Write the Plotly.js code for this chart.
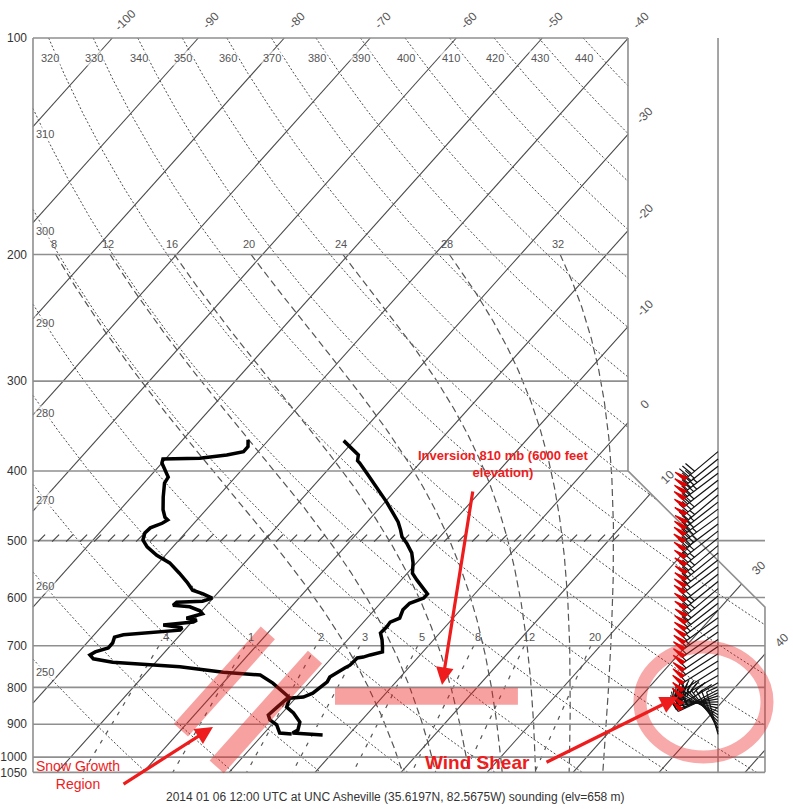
<!DOCTYPE html>
<html><head><meta charset="utf-8">
<script src="https://cdn.plot.ly/plotly-3.0.1.min.js"></script>
<style>html,body{margin:0;padding:0;background:#fff}#chart{width:793px;height:809px}</style>
</head><body><div id="chart"></div>
<script>
// ================= DATA =================
const pressureTicks = [100,200,300,400,500,600,700,800,900,1000,1050];
const pressureTickText = ['100','200','300','400','500','600','700','800','900','1000','1050'];

// Temperature profile (hPa, °C)
const tempP = [363,372,380,387,390,403,422,442,458,471,483,494,504,520,537,555,567,582,593,601,611,624,641,649,659,672,687,703,714,721,726,728,745,752,764,774,786,799,815,825,828,852,868,894,917,926,932];
const tempT = [-31.2,-29.5,-28.0,-27.5,-27.0,-25.1,-22.4,-19.8,-17.9,-16.4,-15.3,-14.4,-13.2,-11.6,-10.4,-9.4,-8.2,-6.6,-5.5,-5.5,-6.6,-6.7,-6.2,-6.9,-6.8,-6.9,-6.0,-5.2,-4.7,-5.8,-6.4,-7.0,-7.1,-7.4,-7.8,-8.2,-8.0,-8.3,-8.5,-9.2,-10.7,-10.1,-8.7,-7.0,-6.4,-6.7,-3.0];

// Dewpoint profile (hPa, °C)
const dewP = [362,370,376,380,384,385,390,399,408,416,435,453,464,468,473,480,488,499,510,524,537,555,571,586,593,601,607,609,615,618,626,632,641,645,649,655,661,666,670,672,676,681,694,705,714,721,730,738,749,762,769,789,807,825,852,874,888,902,926,929];
const dewT = [-42.4,-41.7,-41.7,-43.3,-46.1,-50.3,-50.0,-48.9,-47.8,-47.6,-46.3,-45.0,-44.0,-43.4,-43.7,-44.6,-44.7,-44.2,-43.0,-41.0,-38.7,-36.5,-34.7,-33.2,-31.6,-30.1,-30.9,-33.8,-33.9,-31.8,-30.2,-29.6,-31.0,-29.6,-29.8,-33.0,-30.5,-30.5,-32.6,-34.0,-36.6,-37.4,-37.0,-37.0,-38.1,-38.4,-37.6,-35.0,-26.7,-21.1,-16.5,-14.2,-12.6,-10.9,-11.2,-11.4,-10.7,-9.4,-8.2,-6.7];

// Winds (hPa, direction deg, speed kt)
const windP   = [376,385,394,403,412,422,432,442,452,463,474,485,496,508,520,532,544,557,570,583,597,611,625,640,655,670,686,702,718,735,752,770,788,806,814,822,830,838,846,855,864,873,882,892,902,912,922,930];
const windDir = [230,231,232,233,232,231,230,232,233,234,233,232,231,230,231,232,233,232,231,230,231,232,233,234,235,235,236,236,237,238,238,240,240,242,245,252,260,268,276,284,292,300,308,315,322,330,338,345];
const windSpd = [80,80,85,85,80,80,75,75,80,85,85,80,75,75,75,70,70,70,75,75,70,70,65,65,65,60,60,60,60,55,55,55,50,50,45,40,35,35,30,30,25,25,20,20,15,15,10,10];

// Background line families
const isothermT = [-100,-90,-80,-70,-60,-50,-40,-30,-20,-10,0,10,20,30,40,50];
const isoLabelTop = [-100,-90,-80,-70,-60,-50,-40];
const isoLabelRight = [-30,-20,-10,0];
const isoLabelDiag = [10,30];
const isoLabelLowRight = [40];
const dryTheta = [250,260,270,280,290,300,310,320,330,340,350,360,370,380,390,400,410,420,430,440];
const dryLabelTop = [320,330,340,350,360,370,380,390,400,410,420,430,440];
const dryLabelLeft = [250,260,270,280,290,300,310];
const moistThetaW = [8,12,16,20,24,28,32];
const mixRatio = [0.4,1,2,3,5,8,12,20];
const mixLabels = ['.4','1','2','3','5','8','12','20'];

// Highlight marks (annotation)
const snowBandT = [-20,-12];
const snowBandP0 = [672,726];
const snowBandP1 = [917,1032];
const inversionP = 823;

// ================= GEOMETRY =================
const W=793, H=809, M={l:28,r:3,t:30,b:29};
const XR=[-34.97,53.64], YR=[3.03185,1.98887];
const S=32.5;                  // skew (°C per ln p)
const XL=-34.39, XRT=34.8, XRB=50.73, BARBX=45.27;
const PTOP=100, PBOT=1050, PD0=400, PD1=618.6;
const plotW=W-M.l-M.r, plotH=H-M.t-M.b;
const pxX=plotW/(XR[1]-XR[0]);
const pxLn=plotH/((YR[0]-YR[1])*Math.LN10);

function skewX(T,p){return T+S*Math.log(1000/p);}
function xRight(p){
  if(p<PD0) return XRT;
  if(p>=PD1) return XRB;
  return XRT+(XRB-XRT)*Math.log(p/PD0)/Math.log(PD1/PD0);
}
function inside(X,p){return p>=PTOP-1e-7&&p<=PBOT+1e-7&&X>=XL-1e-7&&X<=xRight(p)+1e-7;}
function curve(Tfn,p0,p1,n){
  const xs=[],ys=[];let prev=null;
  for(let i=0;i<=n;i++){
    const p=Math.exp(Math.log(p0)+(Math.log(p1)-Math.log(p0))*i/n);
    const X=skewX(Tfn(p),p);const ins=inside(X,p);
    if(prev&&prev.ins!==ins){
      let a=prev.p,b=p;
      for(let k=0;k<40;k++){const m=Math.sqrt(a*b);const im=inside(skewX(Tfn(m),m),m);if(im===prev.ins)a=m;else b=m;}
      const pb=prev.ins?a:b;const Xb=skewX(Tfn(pb),pb);
      if(prev.ins){xs.push(Xb,null);ys.push(pb,null);}else{xs.push(Xb);ys.push(pb);}
    }
    if(ins){xs.push(X);ys.push(p);}
    prev={p,ins};
  }
  xs.push(null);ys.push(null);
  return {xs,ys};
}
function bisect(g,a,b){let ga=g(a);for(let k=0;k<60;k++){const m=0.5*(a+b);const gm=g(m);if((gm>0)===(ga>0)){a=m;ga=gm;}else b=m;}return 0.5*(a+b);}
function dryT(th){return p=>th*Math.pow(p/1000,0.2857)-273.15;}
function mixTd(w){return p=>{const e=(w/1000)*p/(0.622+w/1000);const L=Math.log(e/6.112);return 243.5*L/(17.67-L);};}
function moistT(thw){
  const f=(T,p)=>{const Rd=287.04,Cp=1005.7,Lv=2.501e6,eps=0.622;const tc=T-273.15;const es=6.112*Math.exp(17.67*tc/(tc+243.5));const rs=eps*es/(p-es);return (Rd*T+Lv*rs)/(p*(Cp+Lv*Lv*rs*eps/(Rd*T*T)));};
  const rk=(T,p,h)=>{const k1=f(T,p),k2=f(T+h/2*k1,p+h/2),k3=f(T+h/2*k2,p+h/2),k4=f(T+h*k3,p+h);return T+h/6*(k1+2*k2+2*k3+k4);};
  const up=[];let T=thw+273.15,p=1000;up.push(T);
  while(p>190){T=rk(T,p,-2);p-=2;up.push(T);}
  up.reverse();
  const arr=up.slice();T=thw+273.15;p=1000;
  while(p<1060){T=rk(T,p,2);p+=2;arr.push(T);}
  return pp=>{const i=(pp-190)/2;const i0=Math.max(0,Math.min(arr.length-2,Math.floor(i)));const fr=i-i0;return arr[i0]*(1-fr)+arr[i0+1]*fr-273.15;};
}
function join(list){const xs=[],ys=[];list.forEach(c=>{xs.push(...c.xs);ys.push(...c.ys);});return {xs,ys};}

const font='Liberation Sans, Arial, sans-serif';
const traces=[];
const ann=[];
const gridGray='#8f8f8f', lineDark='#4a4a4a';

// Isotherms
const iso=join(isothermT.map(T=>curve(()=>T,PTOP,PBOT,300)));
traces.push({x:iso.xs,y:iso.ys,mode:'lines',line:{color:lineDark,width:1.1},hoverinfo:'skip'});
// Dry adiabats
const dry=join(dryTheta.map(th=>curve(dryT(th),PTOP,PBOT,500)));
traces.push({x:dry.xs,y:dry.ys,mode:'lines',line:{color:lineDark,width:1,dash:'2px,2px'},hoverinfo:'skip'});
// Moist adiabats
const moistFns=moistThetaW.map(moistT);
const mo=join(moistFns.map(fn=>curve(fn,200,PBOT,500)));
traces.push({x:mo.xs,y:mo.ys,mode:'lines',line:{color:'#555',width:1.2,dash:'7px,4px'},hoverinfo:'skip'});
// Mixing ratio
const mx=join(mixRatio.map(w=>curve(mixTd(w),700,PBOT,200)));
traces.push({x:mx.xs,y:mx.ys,mode:'lines',line:{color:'#555',width:1.2,dash:'4px,7px'},hoverinfo:'skip'});

// Isobars and frame
const bx=[],by=[];
pressureTicks.forEach(p=>{bx.push(XL,p<500?XRT:XRB,null);by.push(p,p,null);});
bx.push(XL,XL,null);by.push(PTOP,PBOT,null);
bx.push(XRT,XRT,XRB,XRB,null);by.push(PTOP,PD0,PD1,PBOT,null);
bx.push(BARBX,BARBX,null);by.push(PTOP,PBOT,null);
traces.push({x:bx,y:by,mode:'lines',line:{color:gridGray,width:1.6},hoverinfo:'skip'});

// 500 hPa hatch marks
const hx=[],hy=[];
for(let X=XL+1.0;X<XRT-0.5;X+=14/pxX){hx.push(X);hy.push(496);}
traces.push({x:hx,y:hy,mode:'markers',marker:{symbol:'line-ne',size:7,line:{color:'#444',width:1.2}},hoverinfo:'skip'});

// Sounding
traces.push({x:dewT.map((t,i)=>skewX(t,dewP[i])),y:dewP,mode:'lines',line:{color:'#000',width:3.5},hoverinfo:'skip'});
traces.push({x:tempT.map((t,i)=>skewX(t,tempP[i])),y:tempP,mode:'lines',line:{color:'#000',width:3.5},hoverinfo:'skip'});

// Wind barbs
(function(){
  const lx=[],ly=[],fx=[],fy=[];
  const L=44,F=12,sp=4,pw=4;
  for(let i=0;i<windP.length;i++){
    const p=windP[i],d=windDir[i]*Math.PI/180,fd=(windDir[i]+80)*Math.PI/180;
    const ux=Math.sin(d),uy=-Math.cos(d),vx=Math.sin(fd),vy=-Math.cos(fd);
    const pt=(dx,dy)=>[BARBX+dx/pxX,p*Math.exp(dy/pxLn)];
    const A=pt(0,0),B=pt(L*ux,L*uy);
    lx.push(A[0],B[0],null);ly.push(A[1],B[1],null);
    let s=Math.round(windSpd[i]/5)*5,pos=L;
    while(s>=50){
      const a=pt(pos*ux,pos*uy),b=pt((pos-pw)*ux,(pos-pw)*uy),c=pt(pos*ux+F*vx,pos*uy+F*vy);
      fx.push(a[0],b[0],c[0],a[0],null);fy.push(a[1],b[1],c[1],a[1],null);
      pos-=pw+1.5;s-=50;
    }
    while(s>=10){
      const a=pt(pos*ux,pos*uy),c=pt(pos*ux+F*vx,pos*uy+F*vy);
      lx.push(a[0],c[0],null);ly.push(a[1],c[1],null);
      pos-=sp;s-=10;
    }
    if(s>=5){
      if(pos===L)pos-=sp;
      const a=pt(pos*ux,pos*uy),c=pt(pos*ux+F/2*vx,pos*uy+F/2*vy);
      lx.push(a[0],c[0],null);ly.push(a[1],c[1],null);
    }
  }
  traces.push({x:lx,y:ly,mode:'lines',line:{color:'#111',width:1.2},hoverinfo:'skip'});
  traces.push({x:fx,y:fy,mode:'lines',fill:'toself',fillcolor:'#e00000',line:{color:'#e00000',width:1.2},hoverinfo:'skip'});
})();

// Red highlight bands
const red='rgba(236,30,30,0.42)';
snowBandT.forEach((T,i)=>{
  const ps=[];for(let k=0;k<=20;k++)ps.push(Math.exp(Math.log(snowBandP0[i])+(Math.log(snowBandP1[i])-Math.log(snowBandP0[i]))*k/20));
  traces.push({x:ps.map(p=>skewX(T,p)),y:ps,mode:'lines',line:{color:red,width:19},hoverinfo:'skip'});
});
traces.push({x:[0.73,22.0],y:[inversionP,inversionP],mode:'lines',line:{color:red,width:17},hoverinfo:'skip'});

// ---------- labels ----------
const lblFont={family:font,size:11,color:'#555'};
const L10=Math.log10;
const A0={showarrow:false,xanchor:'center',yanchor:'middle'};
isoLabelTop.forEach(T=>ann.push({...A0,x:skewX(T,PTOP),y:L10(PTOP),text:String(T),textangle:-45,xshift:13,yshift:18,font:{family:font,size:12,color:'#555'}}));
isoLabelRight.forEach(T=>{const p=1000*Math.exp(-(XRT-T)/S);ann.push({...A0,x:XRT,y:L10(p),text:String(T),textangle:-45,xshift:17,yshift:19,font:{family:font,size:12,color:'#555'}});});
isoLabelDiag.forEach(T=>{const p=bisect(q=>skewX(T,q)-xRight(q),PD0,PD1);ann.push({...A0,x:skewX(T,p),y:L10(p),text:String(T),textangle:-45,xshift:17,yshift:16,font:{family:font,size:12,color:'#555'}});});
isoLabelLowRight.forEach(T=>{const p=1000*Math.exp(-(XRB-T)/S);ann.push({...A0,x:XRB,y:L10(p),text:String(T),textangle:-45,xshift:17,yshift:14,font:{family:font,size:12,color:'#555'}});});
dryLabelTop.forEach(th=>ann.push({...A0,x:skewX(dryT(th)(PTOP),PTOP),y:L10(106.5),text:String(th),xshift:1,font:lblFont,bgcolor:'rgba(255,255,255,0.6)'}));
dryLabelLeft.forEach(th=>{const fn=dryT(th);const p=bisect(q=>skewX(fn(q),q)-(XL+12/pxX),PTOP,PBOT);ann.push({...A0,x:XL+12/pxX,y:L10(p),text:String(th),font:lblFont,bgcolor:'rgba(255,255,255,0.6)'});});
moistThetaW.forEach((t,i)=>ann.push({...A0,x:skewX(moistFns[i](200),200),y:L10(200),text:String(t),xshift:-2,yshift:10,font:lblFont}));
mixRatio.forEach((w,i)=>ann.push({...A0,x:skewX(mixTd(w)(680),680),y:L10(680),text:mixLabels[i],font:lblFont}));

// Title at bottom
const PX=x=>(x-M.l)/plotW, PY=y=>(H-M.b-y)/plotH;
ann.push({...A0,xref:'paper',yref:'paper',x:PX(395),y:PY(797),text:'2014 01 06 12:00 UTC at UNC Asheville (35.6197N, 82.5675W) sounding (elv=658 m)',font:{family:font,size:12,color:'#333'}});

// Red annotation texts
const redC='#ee1c1c';
ann.push({...A0,xref:'paper',yref:'paper',x:PX(503),y:PY(464),text:'<b>Inversion 810 mb (6000 feet<br>elevation)</b>',font:{family:font,size:13,color:redC},align:'center'});
ann.push({...A0,xref:'paper',yref:'paper',x:PX(78),y:PY(775),text:'Snow Growth<br>Region',font:{family:font,size:14,color:redC},align:'center'});
ann.push({...A0,xref:'paper',yref:'paper',x:PX(477),y:PY(762),text:'<b>Wind Shear</b>',font:{family:font,size:19,color:redC}});
// Arrows
[[442,685,31,-195],[213,727,-91,58],[678,697,-133,66]].forEach(a=>ann.push({xref:'paper',yref:'paper',x:PX(a[0]),y:PY(a[1]),ax:a[2],ay:a[3],text:'',showarrow:true,arrowhead:2,arrowsize:1.1,arrowwidth:3.2,arrowcolor:redC,standoff:0}));

const layout={
  width:W,height:H,margin:M,paper_bgcolor:'#fff',plot_bgcolor:'#fff',showlegend:false,hovermode:false,
  xaxis:{range:XR,showgrid:false,zeroline:false,showticklabels:false,showline:false,ticks:'',fixedrange:true},
  yaxis:{type:'log',range:YR,showgrid:false,zeroline:false,showline:false,ticks:'',tickvals:pressureTicks,ticktext:pressureTickText,tickfont:{family:font,size:12,color:'#333'},fixedrange:true},
  annotations:ann,
  shapes:[{type:'circle',xref:'paper',yref:'paper',x0:PX(640),x1:PX(767),y0:PY(757),y1:PY(647),line:{color:'rgba(236,30,30,0.38)',width:13}}]
};
Plotly.newPlot('chart',traces,layout,{staticPlot:true,displayModeBar:false});
</script></body></html>
